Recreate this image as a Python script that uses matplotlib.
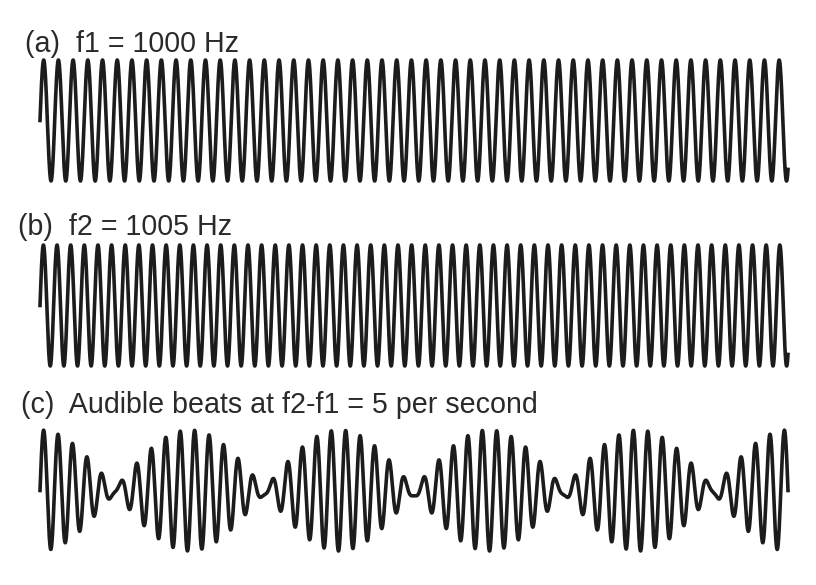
import numpy as np
import matplotlib
matplotlib.use("Agg")
import matplotlib.pyplot as plt

# ---- data ----
panel_labels = ["(a)  f1 = 1000 Hz",
                "(b)  f2 = 1005 Hz",
                "(c)  Audible beats at f2-f1 = 5 per second"]
# cycles drawn across the plotted window in each tone panel
tone_cycles = [50.85, 54.85]
# beat panel: two component tones (cycles in window) and their relative amplitudes
beat_component_cycles = [49.5, 54.5]
beat_component_amps = [1.0, 0.84]

W, H = 816, 585
fig = plt.figure(figsize=(W / 100, H / 100), dpi=100)
fig.patch.set_facecolor("white")

ink = "#1c1c1c"
x0_px, x1_px = 40, 788
panel_px = [(60, 181), (245, 366), (430, 551)]   # (top, bottom) stroke centres
label_px = [(25, 52), (18, 235), (21, 413)]      # (left, baseline)

t = np.linspace(0.0, 1.0, 30000)

signals = []
for c in tone_cycles:
    signals.append(np.sin(2 * np.pi * c * t))
s = np.zeros_like(t)
for c, a in zip(beat_component_cycles, beat_component_amps):
    s += a * np.sin(2 * np.pi * c * t)
signals.append(s / np.max(np.abs(s)))

for i, y in enumerate(signals):
    top, bot = panel_px[i]
    ax = fig.add_axes([x0_px / W, 1 - bot / H, (x1_px - x0_px) / W, (bot - top) / H])
    ax.plot(t, y, color=ink, lw=2.6, clip_on=False, solid_joinstyle="round")
    ax.set_xlim(0, 1)
    ax.set_ylim(-1, 1)
    ax.axis("off")
    lx, ly = label_px[i]
    fig.text(lx / W, 1 - ly / H, panel_labels[i], fontsize=20.6,
             family=["Liberation Sans", "DejaVu Sans"], color="#2a2a2a",
             ha="left", va="baseline")

fig.savefig("out.png", dpi=100, facecolor="white")
